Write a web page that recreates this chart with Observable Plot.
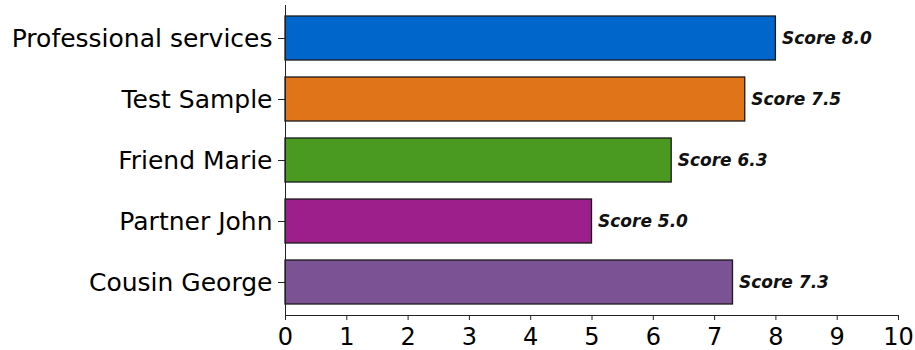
<!DOCTYPE html>
<html>
<head>
<meta charset="utf-8">
<script src="https://cdn.jsdelivr.net/npm/d3@7"></script>
<script src="https://cdn.jsdelivr.net/npm/@observablehq/plot@0.6"></script>
<style>
  html, body { margin: 0; padding: 0; background: #fff; }
  #chart svg { display: block; }
</style>
</head>
<body>
<div id="chart"></div>
<script>
// Reviewers and their scores
const reviewers = ["Professional services", "Test Sample", "Friend Marie", "Partner John", "Cousin George"];
const scores = [8.0, 7.5, 6.3, 5.0, 7.3];
const palette = ["#0066cc", "#e07418", "#4a9a22", "#9c1f8c", "#7b5294"];
const xTicks = [0, 1, 2, 3, 4, 5, 6, 7, 8, 9, 10];

const rows = reviewers.map((name, i) => ({name, score: scores[i]}));

const chart = Plot.plot({
  width: 915,
  height: 350,
  marginLeft: 285,
  marginRight: 17,
  marginTop: 5,
  marginBottom: 35,
  style: {fontFamily: "'DejaVu Sans', sans-serif", fontSize: "24px", color: "#000", background: "#fff"},
  x: {domain: [0, 10], ticks: xTicks, label: null},
  y: {domain: reviewers, paddingInner: 0.283, paddingOuter: 0.166, label: null},
  color: {domain: reviewers, range: palette},
  marks: [
    Plot.barX(rows, {x: "score", y: "name", fill: "name", stroke: "#1a1a1a", strokeWidth: 1.3}),
    Plot.text(rows, {
      x: "score", y: "name", text: d => `Score ${d.score.toFixed(1)}`,
      textAnchor: "start", dx: 6, fontSize: 17, fontStyle: "italic", fontWeight: "bold", fill: "#111"
    }),
    Plot.axisX({ticks: xTicks, tickFormat: d => String(d), tickSize: 5, tickPadding: 7, fontSize: 24, stroke: "#222", label: null}),
    Plot.axisY({tickSize: 7, tickPadding: 6, fontSize: 25, stroke: "#222", label: null}),
    Plot.frame({anchor: "bottom", stroke: "#222", strokeOpacity: 1}),
    Plot.frame({anchor: "left", stroke: "#222", strokeOpacity: 1})
  ]
});

document.getElementById("chart").append(chart);
</script>
</body>
</html>
